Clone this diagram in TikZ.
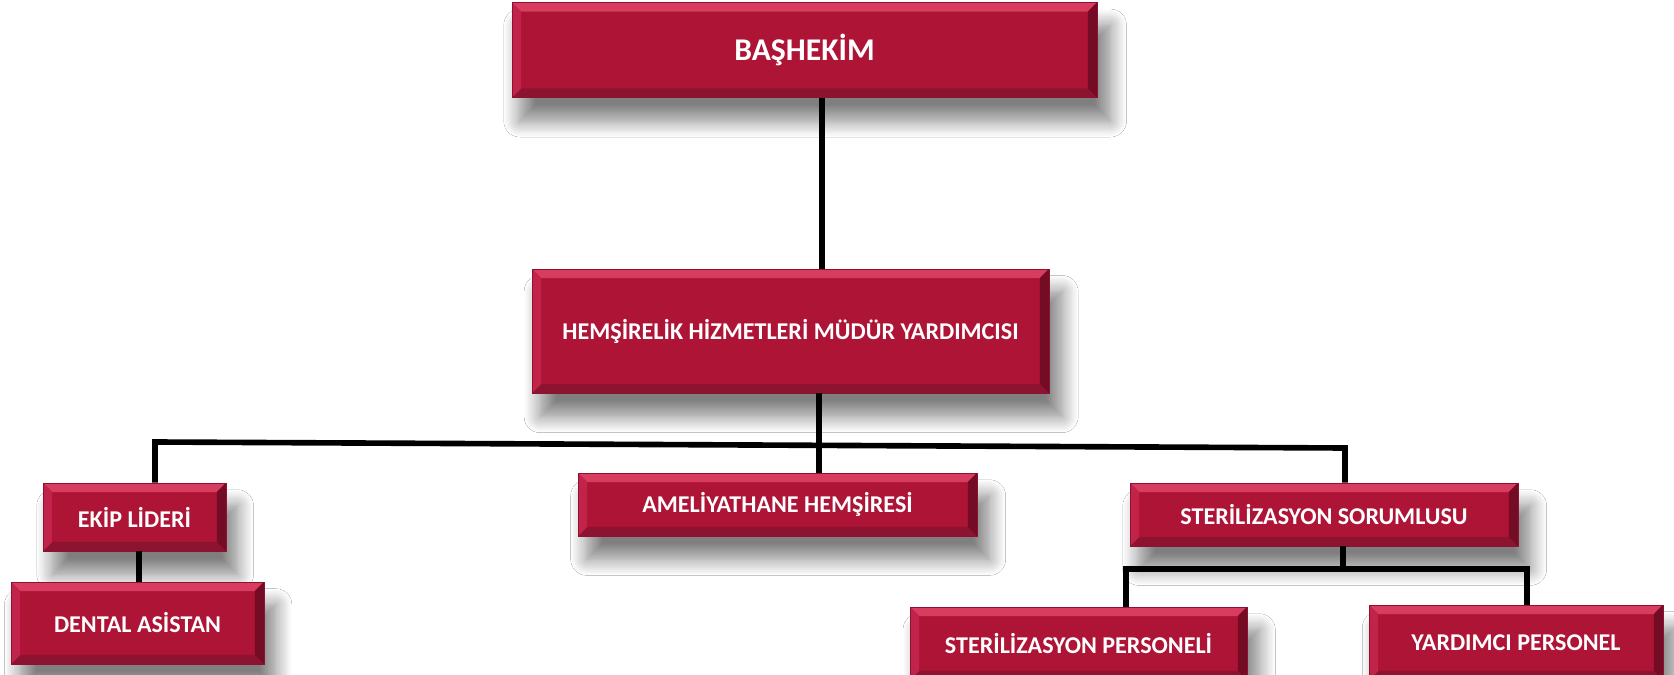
\documentclass[tikz,border=0pt]{standalone}
\usepackage{fontspec}
\setmainfont{Carlito}
\usetikzlibrary{shadows.blur,calc}
\definecolor{boxred}{HTML}{AE1436}
\definecolor{bvtop}{HTML}{D83C5E}
\definecolor{bvleft}{HTML}{C2234A}
\definecolor{bvbot}{HTML}{8C1430}
\definecolor{bvright}{HTML}{740C26}
\definecolor{bvedge}{HTML}{8E1230}
\def\bw{0.18cm}
\tikzset{
  orgbox/.style={rectangle, fill=boxred, draw=bvedge, line width=0.5pt, text=white,
    font=\bfseries\fontsize{13.7}{15}\selectfont, inner sep=0pt,
    blur shadow={shadow xshift=6pt, shadow yshift=-13pt, shadow blur radius=9pt, shadow opacity=50, shadow blur steps=14, shadow scale=1.01},
    path picture={
      \path (path picture bounding box.south west) coordinate (bvsw)
            (path picture bounding box.north east) coordinate (bvne);
      \fill[bvtop] (bvsw|-bvne) -- (bvne) -- ($(bvne)+(-\bw,-\bw)$) -- ($(bvsw|-bvne)+(\bw,-\bw)$) -- cycle;
      \fill[bvbot] (bvsw) -- (bvne|-bvsw) -- ($(bvne|-bvsw)+(-\bw,\bw)$) -- ($(bvsw)+(\bw,\bw)$) -- cycle;
      \fill[bvleft] (bvsw|-bvne) -- (bvsw) -- ($(bvsw)+(\bw,\bw)$) -- ($(bvsw|-bvne)+(\bw,-\bw)$) -- cycle;
      \fill[bvright] (bvne) -- (bvne|-bvsw) -- ($(bvne|-bvsw)+(-\bw,\bw)$) -- ($(bvne)+(-\bw,-\bw)$) -- cycle;
    }},
  conn/.style={line width=3.2pt, black, line join=miter}
}
\begin{document}
\begin{tikzpicture}[x=0.02cm, y=-0.02cm]
\fill[white] (0,0) rectangle (1674,675);
\useasboundingbox (0,0) rectangle (1674,675);
\clip (0,0) rectangle (1674,675);

\node[orgbox, minimum width=11.70cm, minimum height=1.90cm, font=\bfseries\fontsize{18}{20}\selectfont] (bas) at (804.5,50) {BAŞHEKİM};
\node[orgbox, minimum width=10.34cm, minimum height=2.48cm] (hem) at (790.5,331) {HEMŞİRELİK HİZMETLERİ MÜDÜR YARDIMCISI};
\node[orgbox, minimum width=3.66cm, minimum height=1.36cm] (ekip) at (134.5,517) {EKİP LİDERİ};
\node[orgbox, minimum width=5.06cm, minimum height=1.64cm] (dental) at (137.5,623) {DENTAL ASİSTAN};
\node[orgbox, minimum width=7.98cm, minimum height=1.26cm] (amel) at (777.5,504.5) {AMELİYATHANE HEMŞİRESİ};
\node[orgbox, minimum width=7.76cm, minimum height=1.26cm] (ss) at (1324,514.5) {STERİLİZASYON SORUMLUSU};
\node[orgbox, minimum width=6.74cm, minimum height=1.46cm] (sp) at (1078.5,643.5) {STERİLİZASYON PERSONELİ};
\node[orgbox, minimum width=5.88cm, minimum height=1.50cm] (yp) at (1516,642.5) {YARDIMCI PERSONEL};

\coordinate (t1) at (822,0);
\coordinate (t2) at (819,0);
\coordinate (b1) at (155,442);
\coordinate (b2) at (1345,448);
\coordinate (t3) at (139,0);
\coordinate (t4) at (1343,0);
\coordinate (l1) at (1126,569);
\coordinate (l2) at (1527,569);

\draw[conn] (bas.south -| t1) -- (hem.north -| t1);
\draw[conn] (hem.south -| t2) -- (amel.north -| t2);
\draw[conn] (ekip.north -| b1) -- (b1) -- (b2) -- (ss.north -| b2);
\draw[conn] (ekip.south -| t3) -- (dental.north -| t3);
\draw[conn] (ss.south -| t4) -- (l1 -| t4);
\draw[conn] (sp.north -| l1) -- (l1) -- (l2) -- (yp.north -| l2);
\end{tikzpicture}
\end{document}
